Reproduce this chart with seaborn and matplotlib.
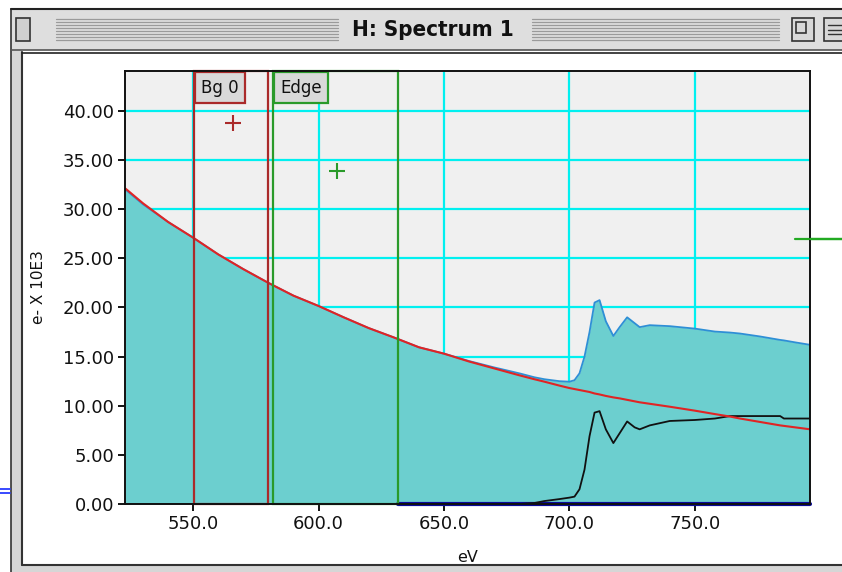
import matplotlib
matplotlib.use("Agg")
import matplotlib.pyplot as plt
import seaborn as sns
import pandas as pd
from matplotlib.patches import Rectangle
from matplotlib.lines import Line2D

# ---------------- data ----------------
energy = [523, 530, 540, 550, 560, 570, 580, 590, 600, 610, 620, 630, 640, 650,
          660, 670, 680, 686, 690, 696, 700, 702, 704, 706, 708, 710, 712, 714.5,
          717.5, 720, 723, 726, 728, 732, 740, 750, 758, 764, 768, 776, 784,
          785.5, 790, 796]
spectrum = [32.0, 30.5, 28.7, 27.1, 25.4, 23.9, 22.5, 21.2, 20.15, 19.0, 17.9,
            16.95, 15.95, 15.3, 14.55, 13.9, 13.3, 12.9, 12.7, 12.5, 12.45, 12.6,
            13.3, 15.0, 17.5, 20.5, 20.75, 18.6, 17.1, 18.0, 19.0, 18.4, 18.0,
            18.2, 18.1, 17.85, 17.55, 17.45, 17.35, 17.05, 16.7, 16.65, 16.45, 16.2]
background = [32.1, 30.6, 28.7, 27.1, 25.4, 23.9, 22.5, 21.2, 20.15, 19.0, 17.9,
              16.95, 15.95, 15.3, 14.5, 13.8, 13.1, 12.7, 12.45, 12.05, 11.8, 11.7,
              11.6, 11.5, 11.4, 11.25, 11.15, 11.0, 10.85, 10.75, 10.6, 10.45,
              10.35, 10.2, 9.9, 9.5, 9.15, 8.9, 8.7, 8.35, 8.0, 7.95, 7.8, 7.6]
edge = [0, 0, 0, 0, 0, 0, 0, 0, 0, 0, 0, 0, 0, 0, 0, 0, 0, 0.1, 0.3, 0.5, 0.65,
        0.75, 1.5, 3.5, 6.9, 9.3, 9.45, 7.6, 6.2, 7.2, 8.4, 7.8, 7.6, 8.0, 8.45,
        8.55, 8.7, 8.95, 8.95, 8.95, 8.95, 8.7, 8.7, 8.7]

baseline_x = [631.5, 796]
baseline_y = [0, 0]

region_names = ["Bg 0", "Edge"]
region_start = [550.4, 582.0]
region_end = [580.0, 631.5]
region_colors = ["#aa2a2a", "#2a9a2a"]
cross_x = [566.0, 607.5]
cross_y = [38.8, 33.9]
level_marker_x = [790, 810]
level_marker_y = [27.0, 27.0]

x_ticks = [550, 600, 650, 700, 750]
y_ticks = [0, 5, 10, 15, 20, 25, 30, 35, 40]

df = pd.DataFrame({"eV": energy, "spectrum": spectrum,
                   "background": background, "edge": edge})

# ---------------- figure ----------------
sns.set_style("white")
plt.rcParams['font.family'] = ['DejaVu Sans']

W, H = 842, 572
fig = plt.figure(figsize=(W / 100, H / 100), dpi=100)
fig.patch.set_facecolor("white")


def fx(px):
    return px / W


def fy(py):
    return 1 - py / H


def frect(x0, y0, x1, y1, **kw):
    r = Rectangle((fx(x0), fy(y1)), fx(x1) - fx(x0), fy(y0) - fy(y1),
                  transform=fig.transFigure, **kw)
    fig.add_artist(r)


def fline(xs, ys, **kw):
    fig.add_artist(Line2D([fx(v) for v in xs], [fy(v) for v in ys],
                          transform=fig.transFigure, **kw))


# window chrome
frect(11, 50, 22, 572, facecolor="#d6d6d6", edgecolor="none")
fline([11, 11], [9, 572], color="#333333", lw=1.2)
fline([22, 22], [52, 565], color="#333333", lw=1.5)
frect(22, 565, 842, 572, facecolor="#d6d6d6", edgecolor="none")
fline([22, 842], [565, 565], color="#333333", lw=1.5)
frect(11, 9, 842, 50, facecolor="#dedede", edgecolor="none")
fline([11, 842], [9, 9], color="#222222", lw=1.5)
fline([11, 842], [50, 50], color="#555555", lw=1.2)
fline([22, 842], [52.5, 52.5], color="#222222", lw=1.2)
for yy in [19, 22, 25, 28, 31, 34, 37, 40]:
    fline([56, 338], [yy, yy], color="#9a9a9a", lw=0.9)
    fline([532, 779], [yy, yy], color="#9a9a9a", lw=0.9)
frect(16, 18, 30, 41, facecolor="#cfcfcf", edgecolor="#333333", lw=1.2)
frect(792, 18, 814, 41, facecolor="#d8d8d8", edgecolor="#333333", lw=1.2)
frect(796, 22, 806, 33, facecolor="none", edgecolor="#333333", lw=1.2)
frect(824, 18, 845, 41, facecolor="#d8d8d8", edgecolor="#333333", lw=1.2)
for yy in [25, 29.5, 34]:
    fline([828, 842], [yy, yy], color="#333333", lw=1.0)
fig.text(fx(433), fy(30), "H: Spectrum 1", ha="center", va="center",
         fontsize=16, fontweight="bold", fontstretch="condensed",
         family=["DejaVu Sans"], color="#111111")
fline([0, 10], [488.5, 488.5], color="#2a3cff", lw=1.3)
fline([0, 10], [492.5, 492.5], color="#2a3cff", lw=1.3)

# plot axes
ax = fig.add_axes([fx(125), fy(504), fx(810) - fx(125), fy(71) - fy(504)])
ax.set_facecolor("#f0f0f0")
ax.set_xlim(522.8, 795.9)
ax.set_ylim(0, 44.07)
ax.set_axisbelow(True)
ax.grid(True, color="#00f0f0", lw=1.6)

ax.fill_between(df["eV"], df["spectrum"], color="#6ccfcf", lw=0, zorder=2)
sns.lineplot(data=df, x="eV", y="spectrum", ax=ax, color="#2e8fd6", lw=1.3,
             zorder=3)
ax.plot(baseline_x, baseline_y, color="#0a0a9a", lw=3, zorder=4, clip_on=False)
sns.lineplot(data=df, x="eV", y="edge", ax=ax, color="#111111", lw=1.3,
             zorder=5)
sns.lineplot(data=df, x="eV", y="background", ax=ax, color="#e02424", lw=1.5,
             zorder=6)

for name, s, e, c in zip(region_names, region_start, region_end, region_colors):
    ax.add_patch(Rectangle((s, 0), e - s, 1, transform=ax.get_xaxis_transform(),
                           fill=False, edgecolor=c, lw=1.6, zorder=7,
                           clip_on=False))
    ax.annotate(name, xy=(s, 1), xycoords=ax.get_xaxis_transform(),
                xytext=(5, -5.5), textcoords="offset points", ha="left",
                va="top", fontsize=12, color="#111111", zorder=8,
                bbox=dict(boxstyle="square,pad=0.38", fc="#d9d9d9", ec=c,
                          lw=1.6))

for cx, cy, c in zip(cross_x, cross_y, region_colors):
    ax.plot([cx], [cy], marker="+", ms=11, mew=1.5, color=c, zorder=8)

ax.plot(level_marker_x, level_marker_y, color="#22aa22", lw=1.6,
        clip_on=False, zorder=8)
fline([810, 842], [239, 239], color="#22aa22", lw=1.6)

ax.set_xticks(x_ticks)
ax.set_yticks(y_ticks)
ax.set_xticklabels([f"{v:.1f}" for v in x_ticks])
ax.set_yticklabels([f"{v:.2f}" for v in y_ticks])
ax.tick_params(direction="out", length=5, width=1.3, color="black",
               labelsize=13, labelcolor="#111111", pad=3,
               bottom=True, left=True)
for sp in ax.spines.values():
    sp.set_visible(True)
    sp.set_color("#111111")
    sp.set_linewidth(1.4)
    sp.set_zorder(9)

ax.set_xlabel("eV", fontsize=11.5, color="#111111")
ax.set_ylabel("e- X 10E3", fontsize=11, color="#111111")
ax.xaxis.set_label_coords(0.5, -0.106)
ax.yaxis.set_label_coords(-0.116, 0.5)

fig.savefig("out.png", dpi=100)
